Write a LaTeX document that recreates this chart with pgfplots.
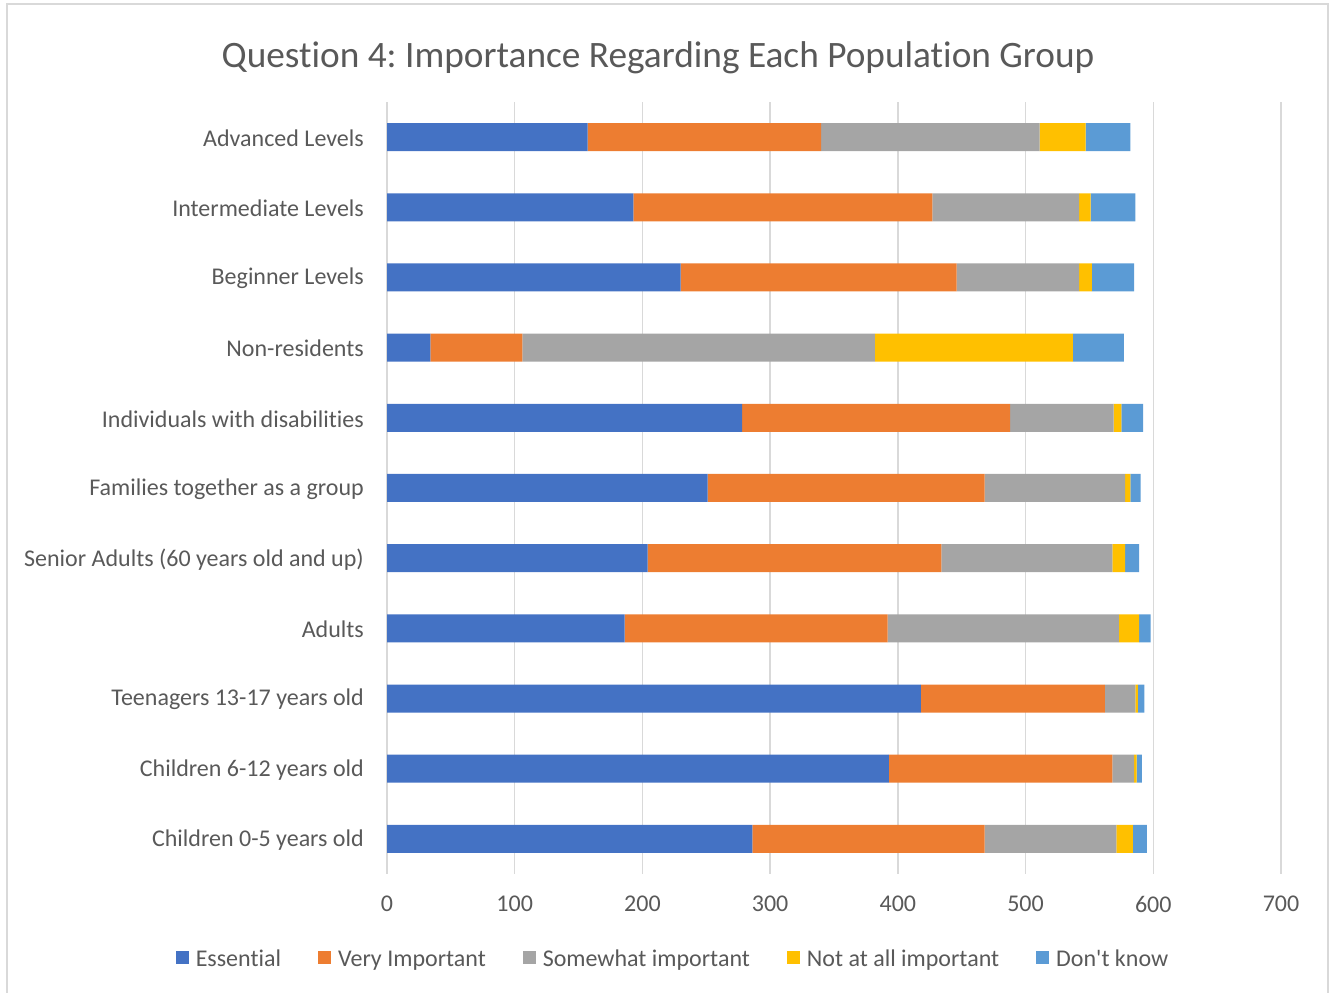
\documentclass[border=0pt]{standalone}
\usepackage{pgfplots}
\pgfplotsset{compat=1.18}
\usepackage{fontspec}
\setmainfont{Carlito}[Ligatures={NoCommon}]
\definecolor{cEss}{HTML}{4472C4}
\definecolor{cVI}{HTML}{ED7D31}
\definecolor{cSI}{HTML}{A5A5A5}
\definecolor{cNA}{HTML}{FFC000}
\definecolor{cDK}{HTML}{5B9BD5}
\definecolor{txt}{HTML}{595959}
\definecolor{grd}{HTML}{D9D9D9}
\frenchspacing
\begin{document}
\begin{tikzpicture}[x=1pt,y=1pt]
\useasboundingbox (0,0) rectangle (1336,993);
\draw[grd, line width=2pt] (7,-5) -- (7,989) -- (1328,989) -- (1328,-5);
\node[txt, font=\fontsize{37.3}{44}\selectfont] at (658,935) {Question 4: Importance Regarding Each Population Group};
\begin{axis}[
  at={(387pt,119pt)}, anchor=south west,
  scale only axis, width=894pt, height=772pt,
  xbar stacked, bar width=28pt,
  xmin=0, xmax=700, ymin=-0.5, ymax=10.5,
  xtick={0,100,...,700}, ytick={0,...,10},
  yticklabels={Children 0-5 years old, Children 6-12 years old, Teenagers 13-17 years old, Adults, Senior Adults (60 years old and up), Families together as a group, Individuals with disabilities, Non-residents, Beginner Levels, Intermediate Levels, Advanced Levels},
  xmajorgrids, grid style={draw=grd, line width=1.5pt},
  axis line style={draw=none},
  major tick length=0pt, tick style={draw=none},
  /pgf/number format/assume math mode=true,
  tick label style={font=\fontsize{24}{28}\selectfont, text=txt},
  yticklabel style={inner xsep=0pt, xshift=-23pt, yshift=-1pt},
  xticklabel style={inner ysep=0pt, yshift=-22pt},
  legend style={at={(0.3188,-0.1127)}, anchor=center, legend columns=5, draw=none,
    font=\fontsize{24}{28}\selectfont, text=txt,
    nodes={inner xsep=0pt, text height=0.7em, text depth=0.22em},
    /tikz/every odd column/.append style={column sep=7pt},
    /tikz/every even column/.append style={column sep=37pt}},
  legend image code/.code={\fill[#1] (0pt,-0.5pt) rectangle (13pt,12.5pt);},
]
\addplot[fill=cEss, draw=none] coordinates {(286,0) (393,1) (418,2) (186,3) (204,4) (251,5) (278,6) (34,7) (230,8) (193,9) (157,10)};
\addplot[fill=cVI, draw=none] coordinates {(182,0) (175,1) (144,2) (206,3) (230,4) (217,5) (210,6) (72,7) (216,8) (234,9) (183,10)};
\addplot[fill=cSI, draw=none] coordinates {(103,0) (17,1) (24,2) (181,3) (134,4) (110,5) (81,6) (276,7) (96,8) (115,9) (171,10)};
\addplot[fill=cNA, draw=none] coordinates {(13,0) (2,1) (2,2) (16,3) (10,4) (4,5) (6,6) (155,7) (10,8) (9,9) (36,10)};
\addplot[fill=cDK, draw=none] coordinates {(11,0) (4,1) (5,2) (9,3) (11,4) (8,5) (17,6) (40,7) (33,8) (35,9) (35,10)};
\legend{Essential, Very Important, Somewhat important, Not at all important, Don\textquotesingle t know}
\end{axis}
\end{tikzpicture}
\end{document}
